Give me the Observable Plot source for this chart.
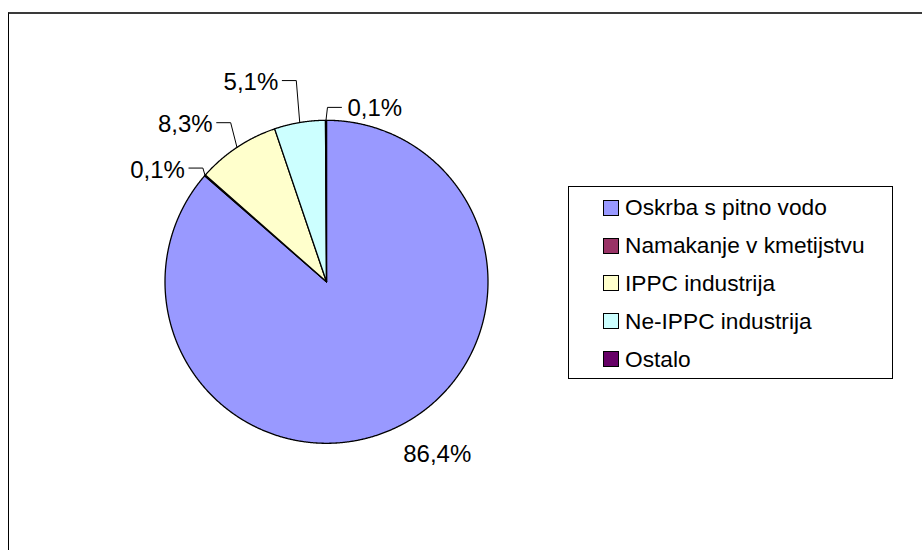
<!DOCTYPE html>
<html>
<head>
<meta charset="utf-8">
<script src="https://cdn.jsdelivr.net/npm/d3@7"></script>
<script src="https://cdn.jsdelivr.net/npm/@observablehq/plot@0.6"></script>
<style>
  html, body { margin: 0; padding: 0; background: #fff; overflow: hidden; }
  #wrap { position: relative; width: 922px; height: 550px; overflow: hidden; font-family: "Liberation Sans", Arial, sans-serif; }
  #frame { position: absolute; left: 8px; top: 12px; width: 1000px; height: 1000px; border-left: 1px solid #000; border-top: 2px solid #3a3a3a; }
  #chart { position: absolute; left: 0; top: 0; }
  #legend { position: absolute; left: 568px; top: 186px; width: 323px; height: 189px; border: 1px solid #000; background: #fff; padding-top: 2px; box-sizing: content-box; }
  .row { height: 37.8px; display: flex; align-items: center; font-size: 22.7px; color: #000; }
  .sw { width: 14px; height: 14px; border: 1px solid #000; margin-left: 34px; margin-right: 6px; flex: none; }
</style>
</head>
<body>
<div id="wrap">
  <div id="frame"></div>
  <div id="chart"></div>
  <div id="legend"></div>
</div>
<script>
// ---- data ----
const names = ["Oskrba s pitno vodo", "Namakanje v kmetijstvu", "IPPC industrija", "Ne-IPPC industrija", "Ostalo"];
const shares = [86.4, 0.1, 8.3, 5.1, 0.1];
const colors = ["#9999FF", "#993366", "#FFFFCC", "#CCFFFF", "#660066"];

// ---- layout ----
const W = 922, H = 550;
const CX = 326, CY = 281.3, R = 161.5;             // pie centre and radius in px
const labelRadius = [1.27, 1.04, 1.15, 1.26, 1.08]; // label anchor distance (in radii)
const labelShift = [-8.2, 1.4, 2.6, 1.0, 0.5];      // label anchor angular nudge (deg)
const tick = 14 / R;                                // horizontal leader length
const fmt = v => d3.format(".1f")(v).replace(".", ",") + "%";

const total = d3.sum(shares);
let acc = 0;
const slices = shares.map((v, i) => {
  const a0 = acc / total * 2 * Math.PI; acc += v;
  const a1 = acc / total * 2 * Math.PI;
  return {name: names[i], value: v, a0, a1, mid: (a0 + a1) / 2, i};
});

// slice outlines (polygons in data units, radius = 1)
const poly = [];
for (const s of slices) {
  poly.push({name: s.name, x: 0, y: 0});
  const n = Math.max(1, Math.ceil((s.a1 - s.a0) / (0.25 * Math.PI / 180)));
  for (let k = 0; k <= n; k++) {
    const a = s.a0 + (s.a1 - s.a0) * k / n;
    poly.push({name: s.name, x: Math.sin(a), y: Math.cos(a)});
  }
  poly.push({name: s.name, x: 0, y: 0});
}

// labels + leaders
const leaders = [], labelsL = [], labelsR = [], labelsC = [];
for (const s of slices) {
  const r = labelRadius[s.i];
  const la = s.mid + labelShift[s.i] * Math.PI / 180;
  const ex = Math.sin(la) * r, ey = Math.cos(la) * r;
  if (s.value >= 10) {
    labelsC.push({x: ex, y: ey, t: fmt(s.value)});
    continue;
  }
  const right = ex > -0.02;
  const endx = right ? ex + tick : ex - tick;
  leaders.push({k: s.name, x: Math.sin(s.mid), y: Math.cos(s.mid)});
  leaders.push({k: s.name, x: ex, y: ey});
  leaders.push({k: s.name, x: endx, y: ey});
  (right ? labelsR : labelsL).push({x: endx, y: ey, t: fmt(s.value)});
}

const chart = Plot.plot({
  width: W, height: H, margin: 0,
  style: {background: "transparent", fontFamily: "Liberation Sans, Arial, sans-serif", overflow: "visible"},
  x: {domain: [-CX / R, (W - CX) / R], axis: null},
  y: {domain: [-(H - CY) / R, CY / R], axis: null},
  color: {domain: names, range: colors},
  marks: [
    Plot.line(poly, {x: "x", y: "y", z: "name", fill: "name", stroke: "#000", strokeWidth: 1.3, strokeLinejoin: "round", curve: "linear"}),
    Plot.line(leaders, {x: "x", y: "y", z: "k", stroke: "#000", strokeWidth: 1, curve: "linear"}),
    Plot.text(labelsL, {x: "x", y: "y", text: "t", textAnchor: "end", dx: -4, dy: 2, fontSize: 24, fill: "#000"}),
    Plot.text(labelsR, {x: "x", y: "y", text: "t", textAnchor: "start", dx: 6, dy: 1, fontSize: 24, fill: "#000"}),
    Plot.text(labelsC, {x: "x", y: "y", text: "t", textAnchor: "middle", fontSize: 24, fill: "#000"})
  ]
});
document.getElementById("chart").appendChild(chart);

const legend = document.getElementById("legend");
names.forEach((n, i) => {
  const row = document.createElement("div");
  row.className = "row";
  const sw = document.createElement("div");
  sw.className = "sw";
  sw.style.background = colors[i];
  const tx = document.createElement("span");
  tx.textContent = n;
  row.appendChild(sw); row.appendChild(tx);
  legend.appendChild(row);
});
</script>
</body>
</html>
